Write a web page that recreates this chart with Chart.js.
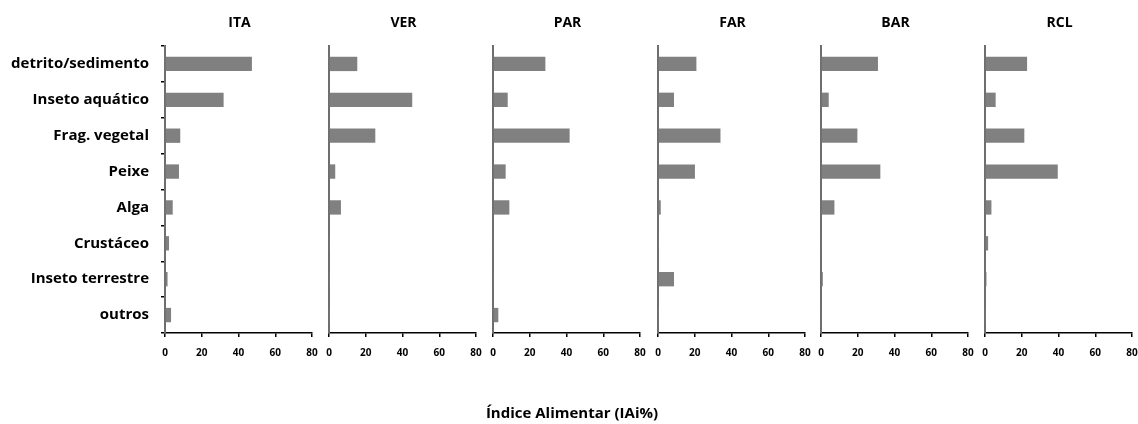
<!DOCTYPE html>
<html>
<head>
<meta charset="utf-8">
<script src="https://cdn.jsdelivr.net/npm/chart.js@4.4.0/dist/chart.umd.min.js"></script>
<style>
    body { margin: 0; background: #fff; }
    #wrap { position: relative; width: 1138px; height: 424px; overflow: hidden; }
    #wrap canvas { position: absolute; top: 0; }
    #xTitle {
        position: absolute; left: 0; width: 1138px; top: 402px; padding-left: 3px;
        text-align: center; font: bold 15px "Open Sans", sans-serif; color: #000;
    }
</style>
</head>
<body>
<div id="wrap">
    <canvas id="c0"></canvas>
    <canvas id="c1"></canvas>
    <canvas id="c2"></canvas>
    <canvas id="c3"></canvas>
    <canvas id="c4"></canvas>
    <canvas id="c5"></canvas>
    <div id="xTitle">Índice Alimentar (IAi%)</div>
</div>
<script>
// Food items and IAi% per site
const categories = ['detrito/sedimento', 'Inseto aquático', 'Frag. vegetal', 'Peixe', 'Alga', 'Crustáceo', 'Inseto terrestre', 'outros'];
const sites = ['ITA', 'VER', 'PAR', 'FAR', 'BAR', 'RCL'];
const ita = [47.3, 31.9, 8.3, 7.6, 4.2, 2.2, 1.4, 3.3];
const ver = [15.4, 45.3, 25.2, 3.4, 6.5, 0.2, 0.2, 0.2];
const par = [28.5, 8.0, 41.7, 6.9, 8.9, 0.3, 0.5, 2.9];
const far = [20.9, 8.7, 34.0, 20.1, 1.5, 0.3, 8.7, 0.2];
const bar = [31.0, 4.2, 19.8, 32.3, 7.3, 0.3, 1.0, 0.3];
const rcl = [22.9, 5.8, 21.4, 39.6, 3.5, 1.7, 0.8, 0.2];
const xTicks = [0, 20, 40, 60, 80];

const siteValues = [ita, ver, par, far, bar, rcl];

// left edge of each panel's plot area
const plotLeft = [165, 329, 493, 658, 821, 985];
const plotWidth = 147;
const plotTop = 46;
const plotBottom = 333;
const H = 424;
const fontFamily = '"Open Sans", sans-serif';

// panel title drawn centered over the plot area
const panelTitle = {
    id: 'panelTitle',
    afterDraw(chart, args, opts) {
        const { ctx, chartArea } = chart;
        ctx.save();
        ctx.font = 'bold 14px ' + fontFamily;
        ctx.fillStyle = '#000';
        ctx.textAlign = 'center';
        ctx.textBaseline = 'middle';
        ctx.fillText(opts.text, (chartArea.left + chartArea.right) / 2 + 1, 23);
        ctx.restore();
    }
};

sites.forEach((site, i) => {
    const first = i === 0;
    const leftW = first ? plotLeft[0] : 12;
    const rightPad = 10;
    const canvas = document.getElementById('c' + i);
    canvas.style.left = (plotLeft[i] - leftW) + 'px';
    canvas.width = leftW + plotWidth + rightPad;
    canvas.height = H;
    canvas.style.width = canvas.width + 'px';
    canvas.style.height = H + 'px';

    new Chart(canvas.getContext('2d'), {
        type: 'bar',
        data: {
            labels: categories,
            datasets: [{
                data: siteValues[i],
                backgroundColor: '#808080',
                borderWidth: 0,
                categoryPercentage: 0.4,
                barPercentage: 1
            }]
        },
        options: {
            indexAxis: 'y',
            responsive: false,
            animation: false,
            layout: { padding: { top: plotTop, right: rightPad, left: 0, bottom: 0 } },
            plugins: {
                legend: { display: false },
                tooltip: { enabled: false },
                panelTitle: { text: site }
            },
            scales: {
                x: {
                    min: 0,
                    max: 80,
                    afterBuildTicks: (scale) => {
                        scale.ticks = xTicks.map(v => ({ value: v }));
                    },
                    afterFit: (scale) => {
                        scale.height = H - plotBottom;
                        // keep the end labels from shrinking the plot width
                        scale.paddingLeft = 0;
                        scale.paddingRight = 0;
                    },
                    border: { color: '#000', width: 1.5 },
                    grid: { drawOnChartArea: false, drawTicks: true, tickLength: 4, color: '#000', lineWidth: 1.5 },
                    ticks: {
                        padding: 10,
                        maxRotation: 0,
                        color: '#000',
                        font: { family: fontFamily, size: 10, weight: 'bold' }
                    }
                },
                y: {
                    afterFit: (scale) => { scale.width = leftW; },
                    border: { color: '#6e6e6e', width: 2 },
                    grid: {
                        offset: true,
                        drawOnChartArea: false,
                        drawTicks: first,
                        tickLength: 4,
                        color: '#000',
                        lineWidth: 1.5
                    },
                    ticks: {
                        display: first,
                        padding: 12,
                        color: '#000',
                        font: { family: fontFamily, size: 15, weight: 'bold' }
                    }
                }
            }
        },
        plugins: [panelTitle]
    });
});
</script>
</body>
</html>
